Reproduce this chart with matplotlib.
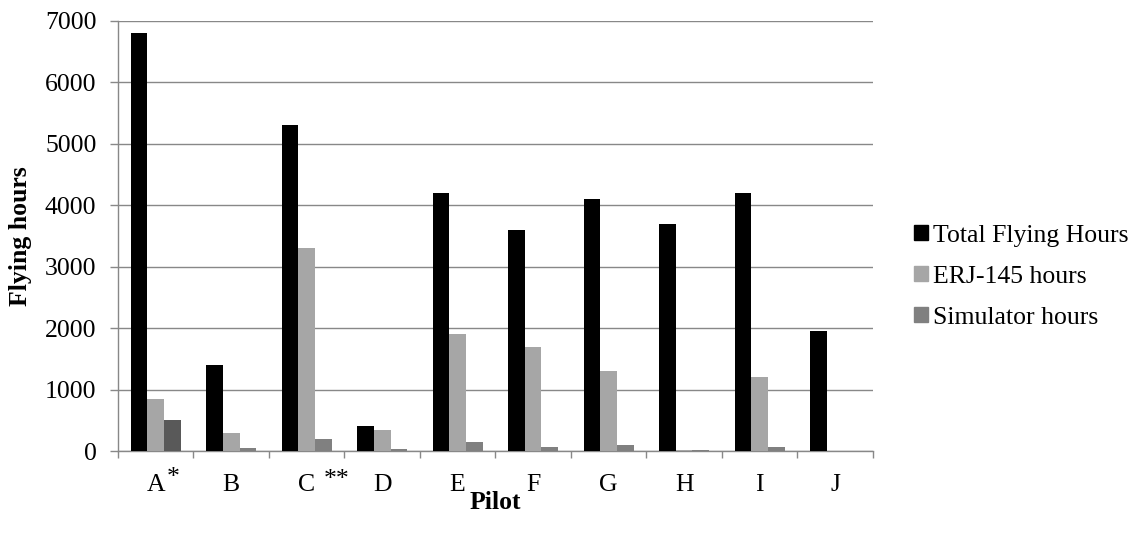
import matplotlib
matplotlib.use("Agg")
import matplotlib.pyplot as plt
import numpy as np
from matplotlib.patches import Patch

plt.rcParams['font.family'] = ['Liberation Serif', 'DejaVu Serif']

pilots = ["A", "B", "C", "D", "E", "F", "G", "H", "I", "J"]
total_hours = [6800, 1400, 5300, 400, 4200, 3600, 4100, 3700, 4200, 1950]
erj_hours = [850, 300, 3300, 350, 1900, 1700, 1300, 15, 1200, 0]
sim_hours = [500, 50, 200, 40, 150, 60, 100, 15, 60, 0]
series_names = ["Total Flying Hours", "ERJ-145 hours", "Simulator hours"]
yticks = [0, 1000, 2000, 3000, 4000, 5000, 6000, 7000]

c_total = "#000000"
c_erj = "#a6a6a6"
c_sim = "#808080"
# first simulator bar is drawn darker in the original
sim_colors = ["#595959"] + [c_sim] * (len(pilots) - 1)
axis_gray = "#888888"
fs = 18.5

fig = plt.figure(figsize=(11.47, 5.34), dpi=100)
ax = fig.add_axes([0.1029, 0.1554, 0.658, 0.8053])

x = np.arange(len(pilots))
w = 0.221
ax.bar(x - w, total_hours, w, color=c_total, zorder=3)
ax.bar(x, erj_hours, w, color=c_erj, zorder=3)
ax.bar(x + w, sim_hours, w, color=sim_colors, zorder=3)

ax.set_xlim(-0.5, len(pilots) - 0.5)
ax.set_ylim(0, 7000)
ax.set_yticks(yticks)
ax.set_yticklabels([str(v) for v in yticks], fontsize=fs)
ax.yaxis.grid(True, color=axis_gray, linewidth=1.0, zorder=0)

# x ticks at category boundaries, labels at centres
ax.set_xticks(np.arange(-0.5, len(pilots), 1.0))
ax.set_xticklabels([])
ax.set_xticks(x, minor=True)
ax.set_xticklabels(pilots, minor=True, fontsize=fs)
ax.tick_params(axis='x', which='minor', length=0, pad=16.5)
ax.tick_params(axis='x', which='major', length=5, width=1.0, color=axis_gray)
ax.tick_params(axis='y', length=5.5, width=1.0, color=axis_gray, pad=10)

for s in ["top", "right"]:
    ax.spines[s].set_visible(False)
for s in ["left", "bottom"]:
    ax.spines[s].set_color(axis_gray)
    ax.spines[s].set_linewidth(1.0)

# asterisk footnote markers next to A and C
ax.annotate("*", xy=(0.225, 0), xycoords=('data', 'axes fraction'),
            xytext=(0, -33), textcoords='offset pixels', fontsize=fs,
            ha='center', va='baseline')
ax.annotate("**", xy=(2.40, 0), xycoords=('data', 'axes fraction'),
            xytext=(0, -35), textcoords='offset pixels', fontsize=fs,
            ha='center', va='baseline')

ax.set_xlabel("Pilot", fontsize=fs, fontweight='bold')
ax.xaxis.set_label_coords(0.5, -0.093)
ax.xaxis.label.set_va('top')
ax.set_ylabel("Flying hours", fontsize=fs, fontweight='bold')
ax.yaxis.set_label_coords(-0.129, 0.5)
ax.yaxis.label.set_va('center')

handles = [Patch(color=c_total), Patch(color=c_erj), Patch(color=c_sim)]
fig.legend(handles, series_names, loc='center left', bbox_to_anchor=(0.797, 0.482),
           frameon=False, fontsize=fs, handlelength=0.52, handleheight=0.52,
           handletextpad=0.2, labelspacing=0.74, borderpad=0, borderaxespad=0)

fig.savefig("out.png", dpi=100)
